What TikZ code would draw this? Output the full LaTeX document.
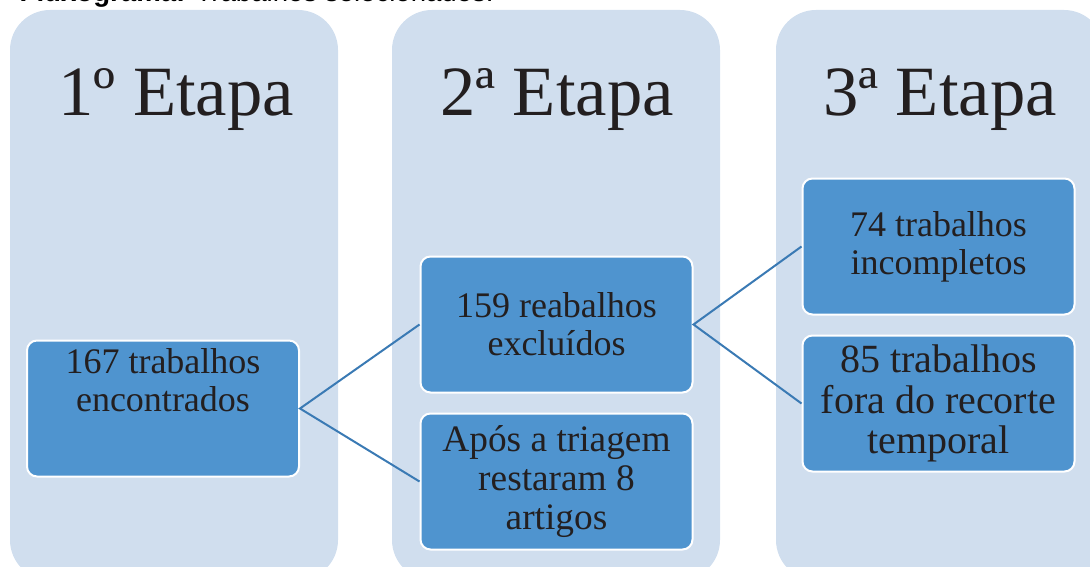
\documentclass[tikz,border=0pt]{standalone}
\usepackage{fontspec}
\setmainfont{Liberation Serif}
\newfontfamily\headfont{Liberation Sans}
\usepackage{xcolor}
\definecolor{panelblue}{HTML}{D0DEEE}
\definecolor{boxblue}{HTML}{4F94CF}
\definecolor{linkblue}{HTML}{3A7AB4}
\definecolor{inkblack}{HTML}{231F20}

\begin{document}
\begin{tikzpicture}[x=0.75pt, y=-0.75pt,
		panel/.style={rectangle, rounded corners=30pt, fill=panelblue, minimum width=246pt, minimum height=427.5pt, inner sep=0pt},
		stage/.style={anchor=base, font=\fontsize{53}{60}\selectfont, text=inkblack},
		box/.style={rectangle, rounded corners=7.5pt, fill=boxblue, draw=white, line width=1.5pt, minimum width=204pt, minimum height=102pt, align=center, inner sep=0pt, text=inkblack, font=\fontsize{27}{28.5}\selectfont},
		link/.style={draw=linkblue, line width=1.5pt}]
		\useasboundingbox (0,0) rectangle (1090,567);
		\node[anchor=base west, font=\headfont\fontsize{20.7}{24}\selectfont] (caption) at (15,2) {\textbf{Fluxograma:} Trabalhos selecionados.};
		% etapas
		\node[panel] (panelA) at (174,295) {};
		\node[panel] (panelB) at (556,295) {};
		\node[panel] (panelC) at (940,295) {};
		\node[stage] (stageA) at (176,116) {1º Etapa};
		\node[stage] (stageB) at (557,116) {2ª Etapa};
		\node[stage] (stageC) at (940,116) {3ª Etapa};
		% caixas
		\node[box] (found) at (163,408.5) {167 trabalhos\\encontrados\\[14pt]\mbox{}};
		\node[box] (excluded) at (556.5,324.5) {159 reabalhos\\excluídos};
		\node[box, font=\fontsize{28}{29}\selectfont] (kept) at (556.5,481.5) {Após a triagem\\restaram 8\\artigos};
		\node[box] (partial) at (938.5,246.5) {74 trabalhos\\incompletos};
		\node[box, font=\fontsize{30}{30.4}\selectfont] (outside) at (938.5,403.5) {85 trabalhos\\fora do recorte\\temporal};
		\draw[link] (excluded.west) -- (found.east) -- (kept.west);
		\draw[link] (partial.west) -- (excluded.east) -- (outside.west);
	\end{tikzpicture}
\end{document}
